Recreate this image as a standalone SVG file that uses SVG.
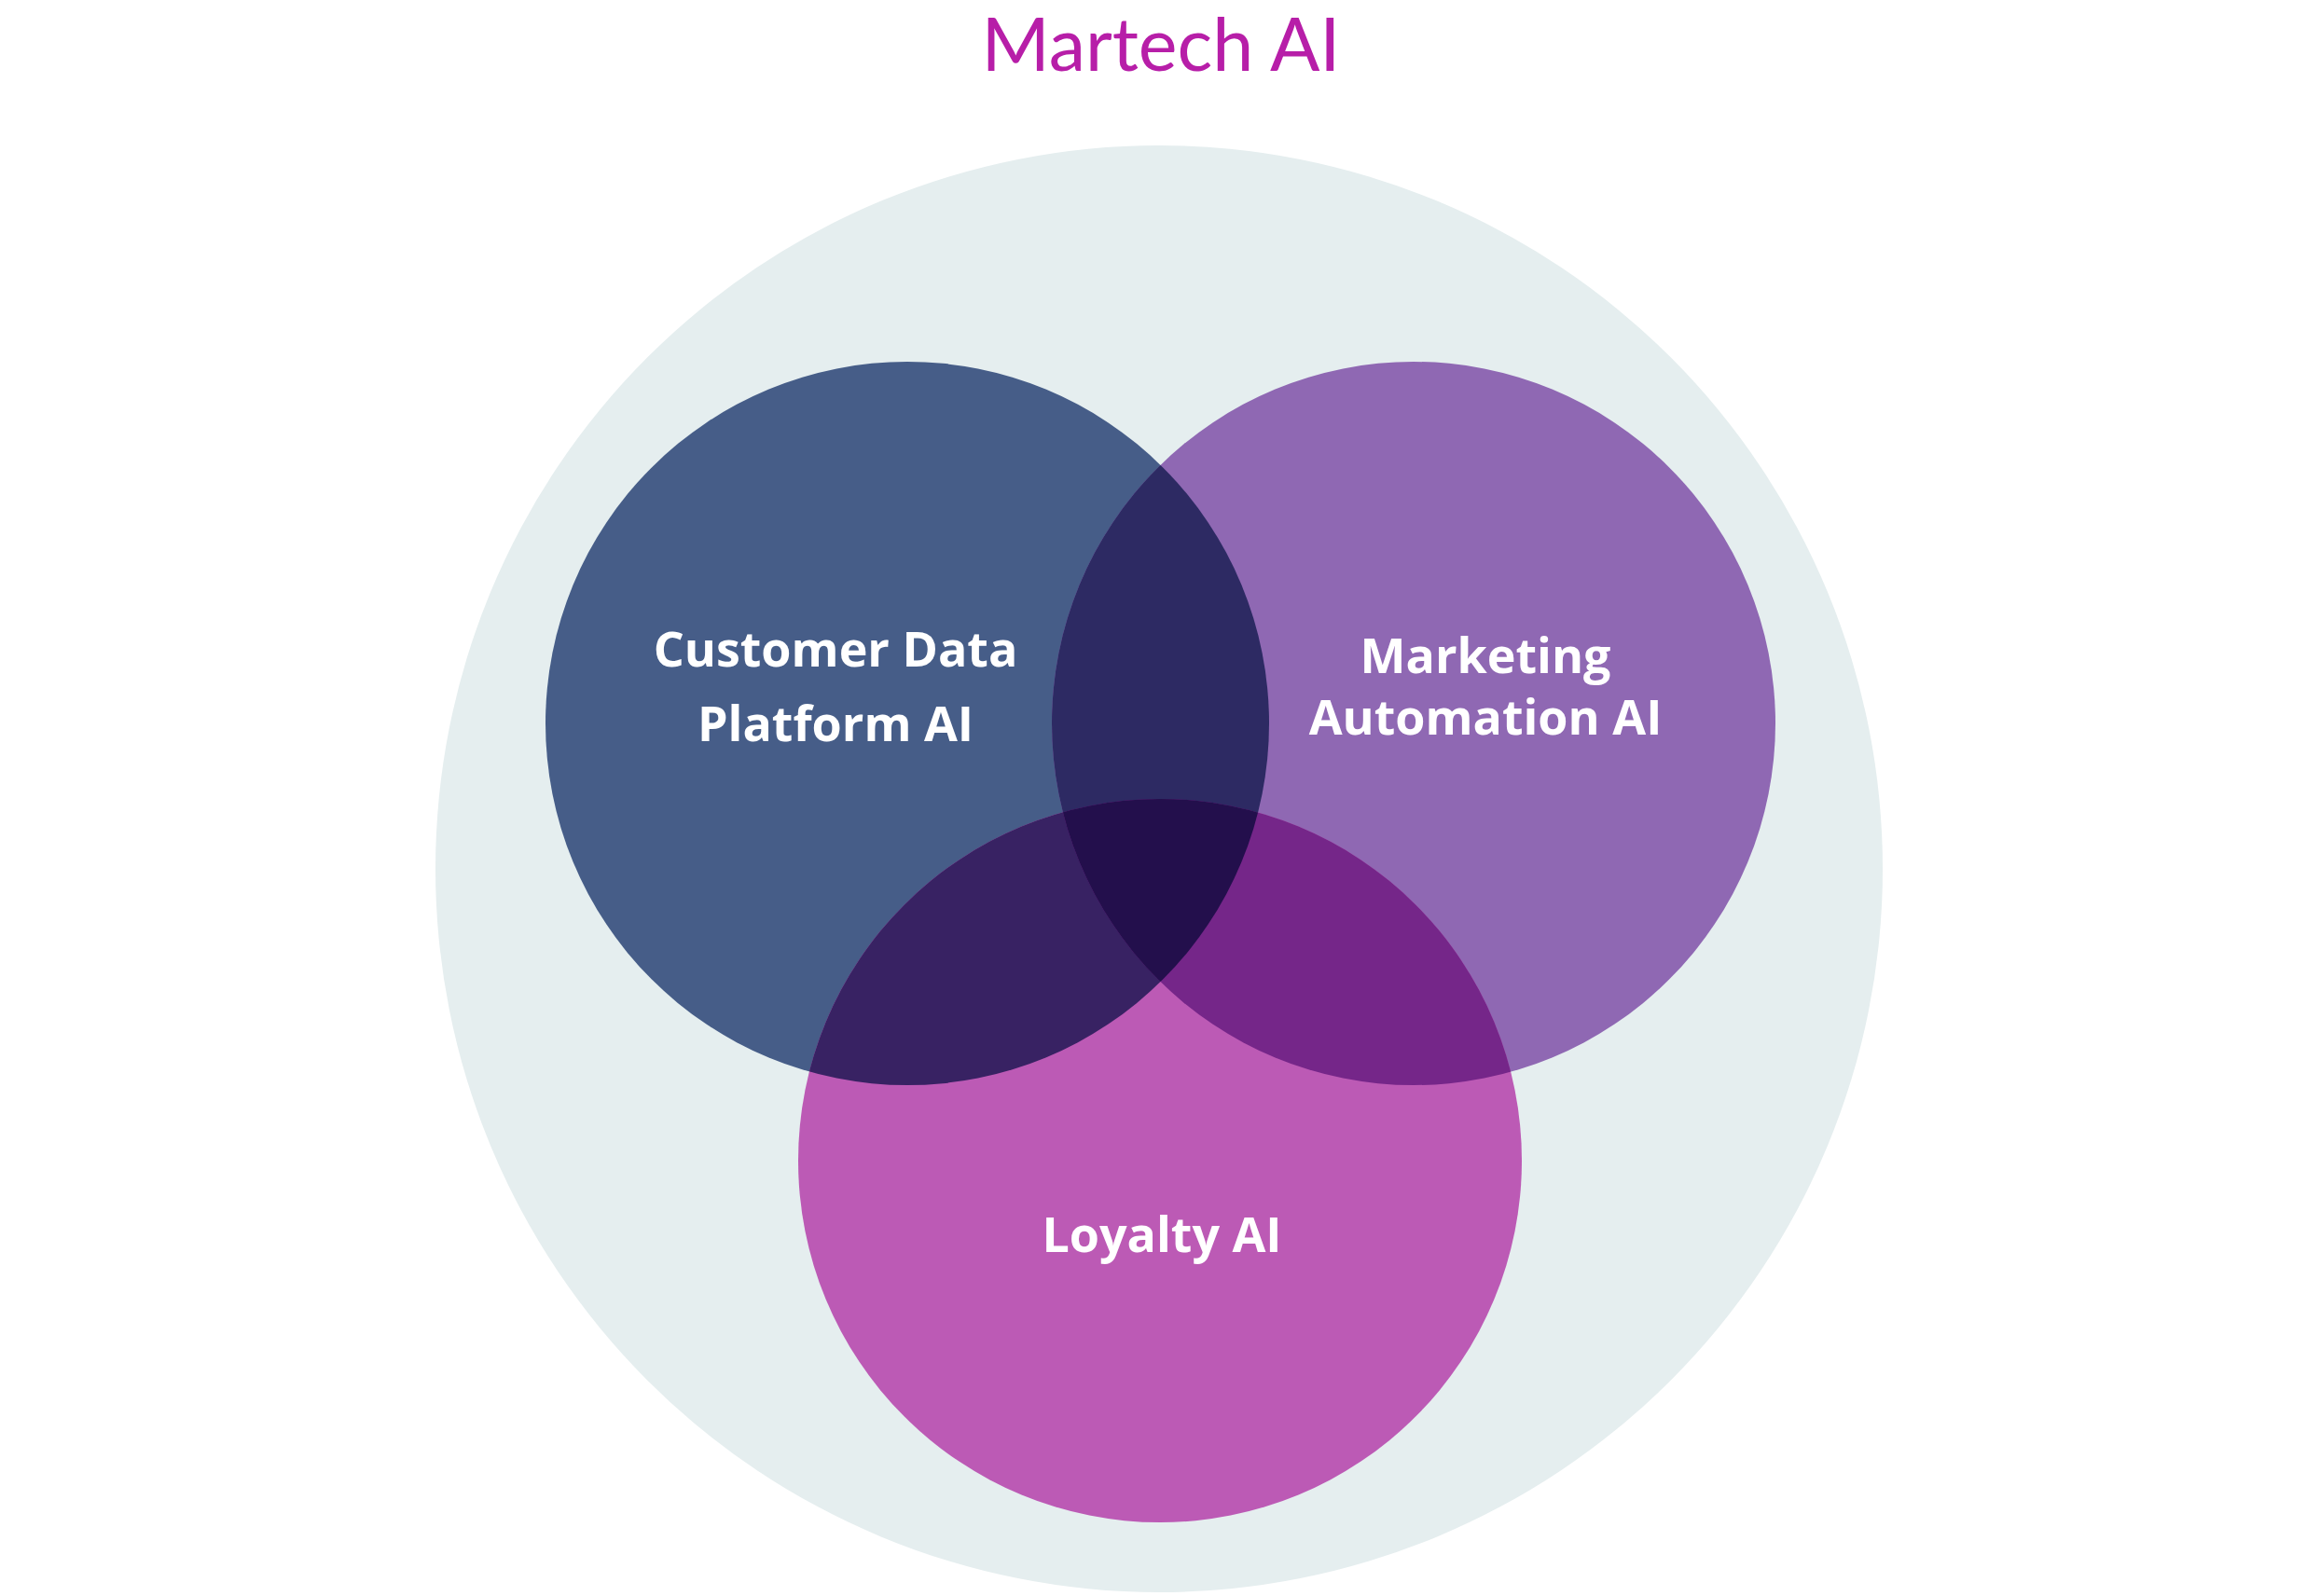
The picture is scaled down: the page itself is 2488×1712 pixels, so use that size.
<svg xmlns="http://www.w3.org/2000/svg" width="2488" height="1712" viewBox="0 0 2488 1712">
<style>
.lbl{font-family:"Open Sans",Lato,"Liberation Sans",sans-serif;font-weight:700;font-size:52px;fill:#ffffff;text-anchor:middle;font-variant-ligatures:none}
.title{font-family:Lato,"Open Sans","Liberation Sans",sans-serif;font-weight:400;font-size:79px;fill:#B71EA8;text-anchor:middle;font-variant-ligatures:none}
</style>
<defs>
<clipPath id="c1"><circle cx="973" cy="776" r="388"/></clipPath>
<clipPath id="c2"><circle cx="1516" cy="776" r="388"/></clipPath>
<clipPath id="c3"><circle cx="1244" cy="1245" r="388"/></clipPath>
</defs>
<rect width="2488" height="1712" fill="#ffffff"/>
<g id="martech">
<circle cx="1243" cy="932" r="776" fill="#E5EEEF"/>
<text class="title" x="1245" y="76">Martech AI</text>
</g>
<g id="cdp">
<circle cx="973" cy="776" r="388" fill="#465D88"/>
</g>
<g id="ma">
<circle cx="1516" cy="776" r="388" fill="#8F68B3"/>
</g>
<g id="loyalty">
<circle cx="1244" cy="1245" r="388" fill="#BC5AB5"/>
</g>
<g id="overlaps">
<circle cx="1516" cy="776" r="388" fill="#2D2A63" clip-path="url(#c1)"/>
<circle cx="1244" cy="1245" r="388" fill="#382263" clip-path="url(#c1)"/>
<circle cx="1244" cy="1245" r="388" fill="#752689" clip-path="url(#c2)"/>
<g clip-path="url(#c1)"><circle cx="1244" cy="1245" r="388" fill="#230F4C" clip-path="url(#c2)"/></g>
</g>
<g id="labels">
<text class="lbl" x="896" y="715">Customer Data</text>
<text class="lbl" x="896" y="795">Platform AI</text>
<text class="lbl" x="1593" y="722">Marketing</text>
<text class="lbl" x="1593" y="788">Automation AI</text>
<text class="lbl" x="1246" y="1343">Loyalty AI</text>
</g>
<g id="connectors"/>
</svg>
